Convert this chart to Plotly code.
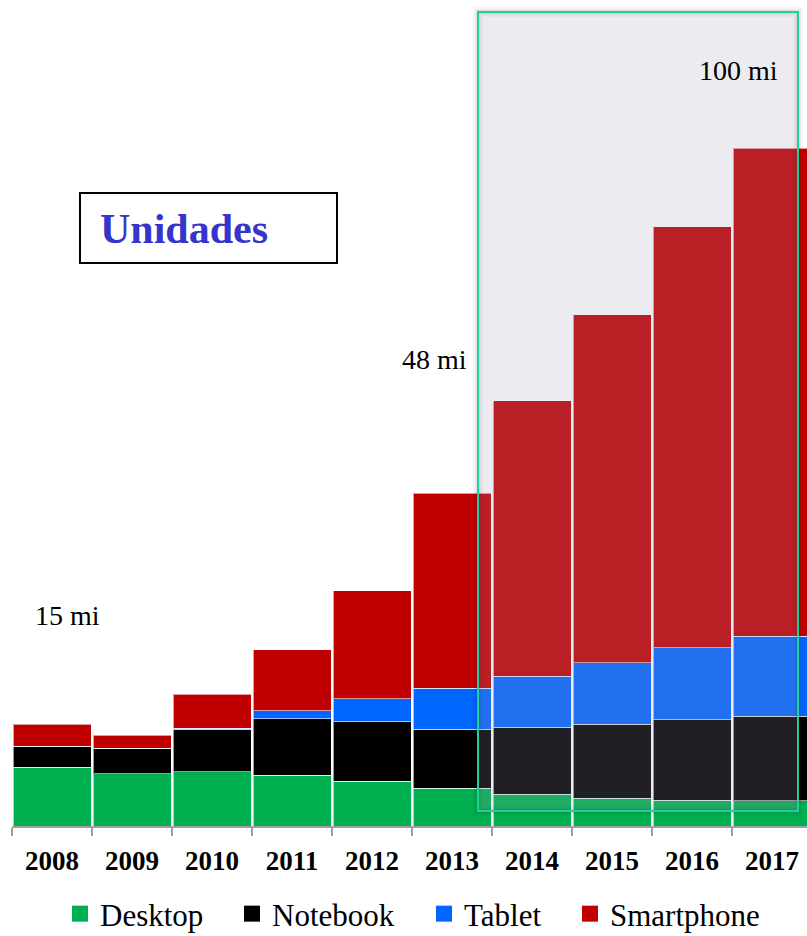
import plotly.graph_objects as go

years = ["2008", "2009", "2010", "2011", "2012", "2013", "2014", "2015", "2016", "2017"]
desktop = [8.7, 7.7, 8.0, 7.5, 6.6, 5.6, 4.7, 4.1, 3.8, 3.7]
notebook = [3.1, 3.8, 6.3, 8.3, 8.8, 8.7, 9.9, 10.9, 11.9, 12.5]
tablet = [0.0, 0.0, 0.1, 1.2, 3.4, 6.0, 7.5, 9.1, 10.6, 11.8]
smartphone = [3.2, 1.9, 5.0, 9.0, 15.9, 28.8, 40.6, 51.3, 62.1, 72.0]

series_names = ["Desktop", "Notebook", "Tablet", "Smartphone"]
series_values = [desktop, notebook, tablet, smartphone]
series_colors = ["#00B050", "#000000", "#0066FF", "#C00000"]

callouts = ["15 mi", "48 mi", "100 mi"]
title_box_text = "Unidades"

SERIF = "Times New Roman, Liberation Serif, serif"

W, H = 807, 936
ML, MR, MT, MB = 12, 0, 0, 110
PW = W - ML - MR
PH = H - MT - MB
PX_PER_UNIT = 6.78
CAT_PX = 80.0


def px_x(p):
    return (p - ML) / PW


def px_y(p):
    return (MT + PH - p) / PH


fig = go.Figure()
for name, vals, col in zip(series_names, series_values, series_colors):
    fig.add_trace(go.Bar(
        x=years, y=vals, name=name, showlegend=False,
        marker=dict(color=col, line=dict(color="rgba(255,255,255,0.6)", width=1)),
    ))

legend_ids = ["legend", "legend2", "legend3", "legend4"]
legend_lefts = [60, 232, 424, 570]
for name, col, lid in zip(series_names, series_colors, legend_ids):
    fig.add_trace(go.Scatter(
        x=[None], y=[None], mode="markers", name=name, legend=lid,
        marker=dict(symbol="square", size=16, color=col, line=dict(width=0)),
    ))

legend_layout = {}
for lid, lx in zip(legend_ids, legend_lefts):
    legend_layout[lid] = dict(
        x=px_x(lx), xanchor="left", y=px_y(941), yanchor="bottom",
        orientation="h", font=dict(family=SERIF, size=31, color="#000"),
        bgcolor="rgba(0,0,0,0)", borderwidth=0, itemsizing="trace",
    )

ymax = PH / PX_PER_UNIT
xmax = -0.5 + PW / CAT_PX

fig.update_layout(
    width=W, height=H,
    margin=dict(l=ML, r=MR, t=MT, b=MB, pad=0, autoexpand=False),
    paper_bgcolor="white", plot_bgcolor="white",
    barmode="stack", bargap=0.025,
    xaxis=dict(
        type="category", range=[-0.5, xmax], showgrid=False, zeroline=False,
        showline=True, linecolor="#A0A0A0", linewidth=2,
        ticks="outside", tickson="boundaries", ticklen=8, tickwidth=2, tickcolor="#A0A0A0",
        tickfont=dict(family=SERIF, size=27, color="#000", weight="bold"),
        ticklabelstandoff=10,
    ),
    yaxis=dict(range=[0, ymax], visible=False, showgrid=False, zeroline=False),
    **legend_layout,
)

# soft shadow around the highlight rectangle
for wdt, alpha in [(10, 0.035), (6, 0.05), (3, 0.06)]:
    fig.add_shape(type="rect", xref="paper", yref="paper",
                  x0=px_x(478), x1=px_x(798), y0=px_y(811), y1=px_y(12),
                  fillcolor="rgba(0,0,0,0)", line=dict(color=f"rgba(0,0,0,{alpha})", width=wdt),
                  layer="above")

# highlight rectangle over forecast years
fig.add_shape(type="rect", xref="paper", yref="paper",
              x0=px_x(478), x1=px_x(798), y0=px_y(811), y1=px_y(12),
              fillcolor="rgba(158,157,181,0.2)", line=dict(color="#1FCF9C", width=2),
              layer="above")

# "Unidades" box
fig.add_shape(type="rect", xref="paper", yref="paper",
              x0=px_x(80), x1=px_x(337), y0=px_y(263), y1=px_y(193),
              fillcolor="white", line=dict(color="#000", width=2), layer="above")
fig.add_annotation(xref="paper", yref="paper", x=px_x(98), y=px_y(229),
                   xanchor="left", yanchor="middle", showarrow=False,
                   text="<b>" + title_box_text + "</b>",
                   font=dict(family=SERIF, size=42, color="#3535CC"))

callout_pos = [(67, 615), (434, 359), (738.5, 70)]
for txt, (cx, cy) in zip(callouts, callout_pos):
    fig.add_annotation(xref="paper", yref="paper", x=px_x(cx), y=px_y(cy),
                       xanchor="center", yanchor="middle", showarrow=False,
                       text=txt, font=dict(family=SERIF, size=28, color="#000"))

fig.write_html("out.html", config={"displayModeBar": False},
               post_script="document.body.style.margin='0';document.body.style.overflow='hidden';")
